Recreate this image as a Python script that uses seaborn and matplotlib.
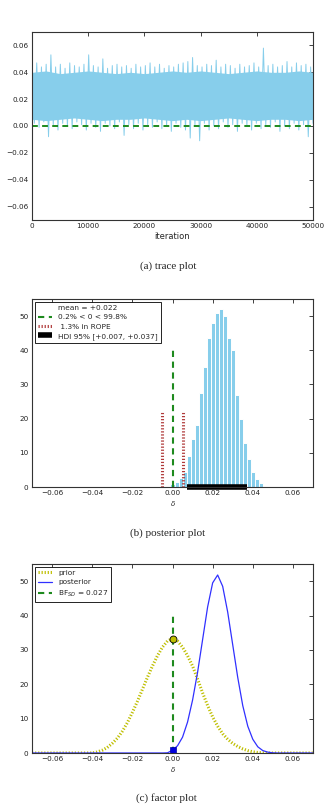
import numpy as np
import pandas as pd
import matplotlib
matplotlib.use("Agg")
import matplotlib.pyplot as plt
import seaborn as sns

# trace: upper / lower excursions (60 each)
trace_hi = [0.045, 0.047, 0.044, 0.046, 0.053, 0.044, 0.046, 0.043, 0.047, 0.045,
            0.044, 0.046, 0.053, 0.045, 0.044, 0.050, 0.043, 0.045, 0.046, 0.044,
            0.045, 0.043, 0.046, 0.044, 0.045, 0.047, 0.044, 0.046, 0.043, 0.045,
            0.044, 0.046, 0.047, 0.048, 0.051, 0.045, 0.044, 0.046, 0.045, 0.049,
            0.044, 0.046, 0.045, 0.043, 0.046, 0.044, 0.045, 0.047, 0.044, 0.058,
            0.045, 0.046, 0.044, 0.045, 0.048, 0.044, 0.047, 0.045, 0.046, 0.044]
trace_lo = [0.002, -0.001, 0.003, -0.008, 0.001, -0.003, 0.002, 0.000, -0.002, 0.003,
            0.001, -0.003, 0.002, -0.001, -0.004, 0.002, 0.000, -0.002, 0.003, -0.007,
            0.001, -0.002, 0.002, -0.003, 0.001, -0.001, 0.003, -0.002, 0.000, -0.004,
            0.002, -0.001, -0.003, -0.009, 0.001, -0.011, 0.002, -0.003, 0.000, -0.002,
            0.003, -0.001, 0.001, -0.004, 0.002, 0.000, -0.003, 0.002, -0.002, 0.001,
            -0.001, 0.003, -0.004, 0.000, -0.002, 0.002, -0.003, 0.001, -0.008, 0.002]
# dense core of the trace, every 2500 iterations
core_hi = [0.040, 0.041, 0.039, 0.040, 0.041, 0.040, 0.039, 0.040, 0.039, 0.040, 0.041,
           0.040, 0.041, 0.040, 0.039, 0.040, 0.041, 0.040, 0.040, 0.041, 0.040]
core_lo = [0.005, 0.004, 0.005, 0.006, 0.005, 0.004, 0.005, 0.005, 0.006, 0.005, 0.004,
           0.005, 0.004, 0.005, 0.006, 0.005, 0.004, 0.005, 0.005, 0.004, 0.005]
n_iter = 50000

# posterior histogram
bin_centers = [0.000, 0.002, 0.004, 0.006, 0.008, 0.010, 0.012, 0.014, 0.016, 0.018,
               0.020, 0.022, 0.024, 0.026, 0.028, 0.030, 0.032, 0.034, 0.036, 0.038,
               0.040, 0.042, 0.044]
bin_heights = [0.8, 1.5, 2.5, 4.5, 9, 14, 18, 27.5, 35, 43.5,
               48, 51, 52, 50, 43.5, 40, 27, 20, 13, 8.3,
               4.4, 2.3, 1.1]
rope = [-0.005, 0.005]
rope_top = 22
zero_top = 40
hdi = [0.007, 0.037]

# factor plot curves (step 0.0025 from -0.07 to 0.07)
delta_grid = [round(-0.07 + 0.0025 * i, 4) for i in range(57)]
prior_pdf = [0, 0, 0, 0, 0, 0, 0, 0, 0, 0, 0, 0, 0,
             0.3, 0.8, 1.6, 2.8, 4.3, 6.3, 8.8, 11.8, 15, 18.5, 22, 25.3, 28.3, 30.8, 32.6,
             33.3,
             32.6, 30.8, 28.3, 25.3, 21.5, 17.5, 13.8, 10.5, 7.8, 5.6, 4, 2.8, 1.9, 1.2, 0.7,
             0.35, 0.15, 0.05, 0, 0, 0, 0, 0, 0, 0, 0, 0, 0]
post_pdf = [0, 0, 0, 0, 0, 0, 0, 0, 0, 0, 0, 0, 0, 0, 0, 0, 0, 0, 0, 0, 0, 0, 0, 0, 0, 0, 0,
            0.05, 0.8, 2.1, 4.6, 9, 15.4, 23.5, 33, 42.5, 49.5, 51.8, 48.5, 41, 31.5, 22,
            13.8, 7.8, 4, 1.8, 0.7, 0.25, 0.05, 0, 0, 0, 0, 0, 0, 0, 0]
prior_at_zero = 33.3
post_at_zero = 1.0

sns.set_theme(style="white")
plt.rcParams['font.family'] = ['DejaVu Sans']

W, H = 331, 806
fig = plt.figure(figsize=(W / 100, H / 100), dpi=100)


def make_ax(top, bottom):
    ax = fig.add_axes([32 / W, 1 - bottom / H, 281 / W, (bottom - top) / H])
    ax.tick_params(direction='in', top=True, right=True, length=3, width=0.6,
                   labelsize=5.2, pad=2.5, colors='#222222')
    for s in ax.spines.values():
        s.set_linewidth(0.8)
        s.set_color('#333333')
    return ax


def style_legend(ax):
    leg = ax.legend(loc='upper left', fontsize=5.3, frameon=True, fancybox=False,
                    edgecolor='black', framealpha=1, borderaxespad=0.35,
                    borderpad=0.4, handlelength=2.0, labelspacing=0.45)
    leg.get_frame().set_linewidth(0.6)


green = '#1e8a1e'
blue_fill = '#87ceeb'

# (a) trace plot
ax1 = make_ax(32, 220)
core_x = np.linspace(0, n_iter, len(core_hi))
ax1.fill_between(core_x, core_lo, core_hi, color=blue_fill, lw=0)
trace = np.ravel(np.column_stack([trace_hi, trace_lo]))
it = np.linspace(0, n_iter, len(trace))
sns.lineplot(x=it, y=trace, sort=False, estimator=None, color=blue_fill, lw=0.7, ax=ax1)
ax1.axhline(0, color=green, lw=1.4, ls=(0, (3, 2.2)))
ax1.set_xlim(0, n_iter)
ax1.set_ylim(-0.07, 0.07)
ax1.set_yticks(np.arange(-0.06, 0.061, 0.02))
ax1.set_xlabel('iteration', fontsize=6, labelpad=1.5)
ax1.set_ylabel('')

# (b) posterior plot
ax2 = make_ax(299, 487)
ax2.plot([], [], ' ', label='mean = +0.022')
sns.histplot(x=bin_centers, weights=bin_heights, binwidth=0.002, binrange=(-0.001, 0.045),
             color=blue_fill, edgecolor='white', linewidth=0.7, alpha=1, ax=ax2)
ax2.plot([0, 0], [0, zero_top], color=green, lw=1.5, ls=(0, (3, 2.2)),
         label='0.2% < 0 < 99.8%')
for i, r in enumerate(rope):
    ax2.plot([r, r], [0, rope_top], color='#b03a3a', lw=2.2, ls=(0, (0.4, 0.6)),
             label=' 1.3% in ROPE' if i == 0 else None)
ax2.plot(hdi, [0, 0], color='black', lw=4, solid_capstyle='butt',
         label='HDI 95% [+0.007, +0.037]', clip_on=False)
ax2.set_xlim(-0.07, 0.07)
ax2.set_ylim(0, 55)
ax2.set_xticks(np.arange(-0.06, 0.061, 0.02))
ax2.set_yticks(range(0, 51, 10))
ax2.set_ylabel('')
ax2.set_xlabel(r'$\delta$', fontsize=5, labelpad=2)
style_legend(ax2)

# (c) factor plot
ax3 = make_ax(564, 753)
curves = pd.DataFrame({'delta': delta_grid, 'prior': prior_pdf, 'posterior': post_pdf})
sns.lineplot(data=curves, x='delta', y='prior', color=(0.75, 0.75, 0), lw=2.2,
             ls=(0, (0.4, 0.6)), label='prior', ax=ax3)
sns.lineplot(data=curves, x='delta', y='posterior', color='#3030ff', lw=0.9,
             label='posterior', ax=ax3)
ax3.plot([0, 0], [0, zero_top], color=green, lw=1.5, ls=(0, (3, 2.2)),
         label=r'BF$_{SD}$ = 0.027')
ax3.plot([0], [prior_at_zero], 'o', color=(0.75, 0.75, 0), mec='black', mew=0.6, ms=5)
ax3.plot([0], [post_at_zero], 's', color='#0000dd', mec='#0000aa', mew=0.5, ms=4.5)
ax3.set_xlim(-0.07, 0.07)
ax3.set_ylim(0, 55)
ax3.set_xticks(np.arange(-0.06, 0.061, 0.02))
ax3.set_yticks(range(0, 51, 10))
ax3.set_ylabel('')
ax3.set_xlabel(r'$\delta$', fontsize=5, labelpad=2)
style_legend(ax3)

cap = dict(ha='center', va='center', fontsize=8, family=['Liberation Serif', 'DejaVu Serif'])
fig.text(168 / W, 1 - 266 / H, '(a) trace plot', **cap)
fig.text(168 / W, 1 - 533 / H, '(b) posterior plot', **cap)
fig.text(166 / W, 1 - 798 / H, '(c) factor plot', **cap)

fig.savefig('out.png', dpi=100)
